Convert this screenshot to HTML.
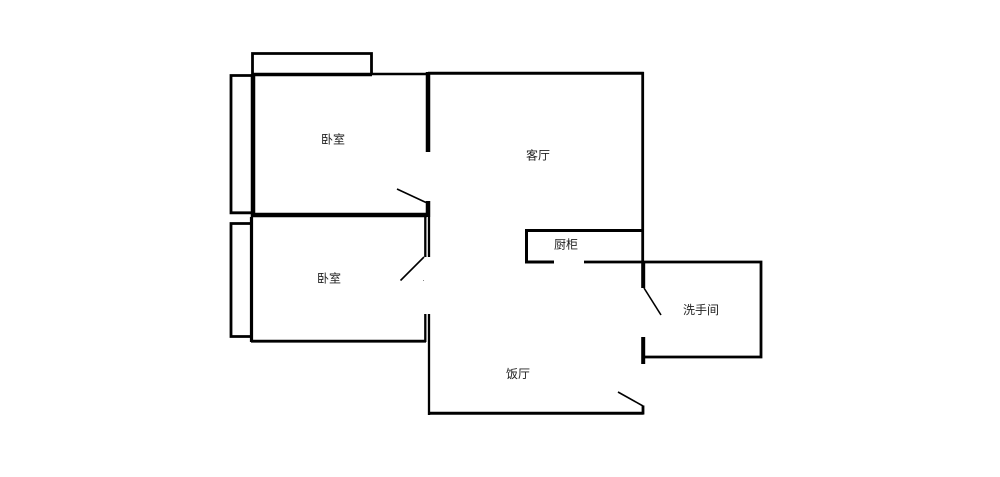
<!DOCTYPE html>
<html lang="zh">
<head>
<meta charset="utf-8">
<style>
html,body{margin:0;padding:0;background:#fff;width:1000px;height:477px;overflow:hidden}
svg{display:block}
text{font-family:"Liberation Sans","WenQuanYi Zen Hei","Noto Sans CJK SC",sans-serif;font-size:12px;fill:#222}
</style>
</head>
<body>
<svg width="1000" height="477" viewBox="0 0 1000 477" xmlns="http://www.w3.org/2000/svg">
<rect width="1000" height="477" fill="#fff"/>
<g fill="none" stroke="#000" stroke-linecap="butt">
  <!-- balconies -->
  <path d="M252.5 74V53.5H371.5V74" stroke-width="2.8"/>
  <path d="M252 75.5H231V212.8H252" stroke-width="2.8"/>
  <path d="M251 223.5H231V336.5H251" stroke-width="2.8"/>
  <!-- upper bedroom -->
  <path d="M252 74.5H372" stroke-width="3.5"/>
  <path d="M372 74H428" stroke-width="2.4"/>
  <path d="M253 74V217" stroke-width="4.5"/>
  <path d="M251 215H427" stroke-width="4.5"/>
  <path d="M428 72V152" stroke-width="4.5"/>
  <path d="M428 201V217" stroke-width="4.5"/>
  <path d="M397 189L426 202.5" stroke-width="1.6"/>
  <!-- lower bedroom -->
  <path d="M251.5 217V342" stroke-width="3.2"/>
  <path d="M251 341.2H426" stroke-width="2.8"/>
  <path d="M425.3 217V257M429 217V257" stroke-width="2.3"/>
  <path d="M425.3 314V342M429 314V415" stroke-width="2.3"/>
  <path d="M400.5 280.5L424 257" stroke-width="1.6"/>
  <!-- living room -->
  <path d="M428 73.2H643.8" stroke-width="3"/>
  <path d="M642.7 72V262" stroke-width="2.8"/>
  <!-- cabinet -->
  <path d="M642 230.5H526.5V262H554" stroke-width="3"/>
  <!-- washroom -->
  <path d="M584 262H761V357H643" stroke-width="2.8"/>
  <path d="M643.2 262V288M643.2 337V364" stroke-width="4"/>
  <path d="M644 288L661 315" stroke-width="1.6"/>
  <!-- dining room -->
  <path d="M429 413.2H643.5" stroke-width="3"/>
  <path d="M643 405.5V414.5" stroke-width="2.8"/>
  <path d="M618 392L643 406" stroke-width="1.6"/>
</g>
<rect x="423" y="280" width="1" height="1" fill="#888"/>
<text x="321" y="143.5">卧室</text>
<text x="317" y="282.5">卧室</text>
<text x="526" y="159.5">客厅</text>
<text x="554" y="248.5">厨柜</text>
<text x="683" y="314">洗手间</text>
<text x="506" y="378">饭厅</text>
</svg>
</body>
</html>
